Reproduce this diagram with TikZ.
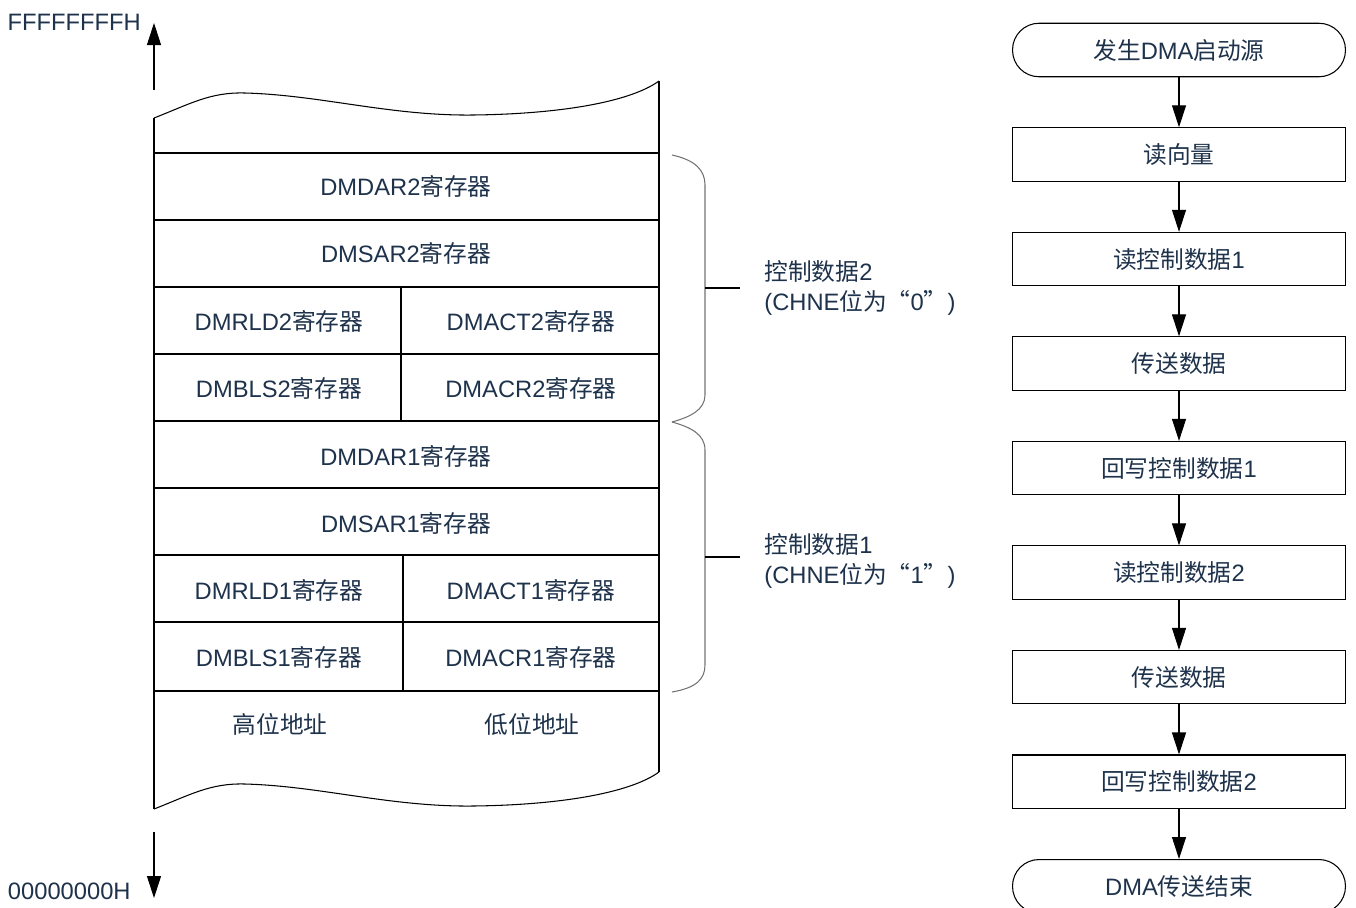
\documentclass[tikz,border=0pt]{standalone}
\usepackage{fontspec}
\setmainfont{Liberation Sans}
\newfontfamily\cjkfont{Noto Sans CJK SC}
\newcommand{\cn}[1]{{\cjkfont #1}}
\newcommand{\reg}[1]{#1\cn{寄存器}}
\usetikzlibrary{arrows.meta,positioning}
\definecolor{txtblue}{RGB}{30,50,75}

\begin{document}
\begin{tikzpicture}[x=0.02cm, y=-0.02cm,
  font=\fontsize{13.5}{17}\selectfont, text=txtblue, line width=0.6pt,
  arr/.style={-{Triangle[length=0.44cm,width=0.28cm]}},
  stepbox/.style={draw, minimum width=6.66cm, minimum height=1.07cm, inner sep=0pt},
  term/.style={stepbox, rounded corners=0.53cm},
  brc/.style={draw=black!55},
  node distance=1cm]
\useasboundingbox (0,0) rectangle (1356,907);

% address direction
\node[anchor=east] (hiaddr) at (147,22) {FFFFFFFFH};
\node[anchor=east] (loaddr) at (137,891) {00000000H};
\coordinate (upfrom) at (154,90);
\coordinate (uptip) at (154,23);
\coordinate (dnfrom) at (154,832);
\coordinate (dntip) at (154,898);
\draw[arr] (upfrom) -- (uptip);
\draw[arr] (dnfrom) -- (dntip);

% memory block with torn edges
\foreach \dy in {0,691}
  \draw (154,118+\dy) .. controls (190,104+\dy) and (210,92+\dy) .. (245,93+\dy)
        .. controls (320,95+\dy) and (390,116+\dy) .. (473,115+\dy)
        .. controls (560,114+\dy) and (630,102+\dy) .. (659,81+\dy);
\draw (154,118) -- (154,809);
\draw (659,81) -- (659,772);
\foreach \y in {153,220,287,354,421,488,555,622,691}
  \draw (154,\y) -- (659,\y);
\draw (401,287) -- (401,421);
\draw (403,555) -- (403,691);

\node (dar2) at (406,186) {\reg{DMDAR2}};
\node (sar2) at (406,253) {\reg{DMSAR2}};
\node (rld2) at (279,321) {\reg{DMRLD2}};
\node (act2) at (531,321) {\reg{DMACT2}};
\node (bls2) at (279,388) {\reg{DMBLS2}};
\node (acr2) at (531,388) {\reg{DMACR2}};
\node (dar1) at (406,456) {\reg{DMDAR1}};
\node (sar1) at (406,523) {\reg{DMSAR1}};
\node (rld1) at (279,590) {\reg{DMRLD1}};
\node (act1) at (531,590) {\reg{DMACT1}};
\node (bls1) at (279,657) {\reg{DMBLS1}};
\node (acr1) at (531,657) {\reg{DMACR1}};
\node (hibits) at (280,724) {\cn{高位地址}};
\node (lobits) at (532,724) {\cn{低位地址}};

% braces for the two control data sets
\draw[brc] (672,155) .. controls (695,160) and (705,170) .. (705,185) -- (705,395)
  .. controls (705,410) and (690,417) .. (672,422);
\draw[brc] (672,422) .. controls (690,427) and (705,434) .. (705,450) -- (705,665)
  .. controls (705,680) and (695,688) .. (672,692);
\draw (705,288) -- (740,288);
\draw (705,557) -- (740,557);
\node[anchor=west, align=left] (cd2) at (758,288) {\cn{控制数据}2\\(CHNE\cn{位为“}0\cn{”})};
\node[anchor=west, align=left] (cd1) at (758,561) {\cn{控制数据}1\\(CHNE\cn{位为“}1\cn{”})};

% flow
\node[term] (start) at (1179,50) {\cn{发生}DMA\cn{启动源}};
\node[stepbox, below=of start] (vec) {\cn{读向量}};
\node[stepbox, below=of vec] (rd1) {\cn{读控制数据}1};
\node[stepbox, below=of rd1] (xfer1) {\cn{传送数据}};
\node[stepbox, below=of xfer1] (wb1) {\cn{回写控制数据}1};
\node[stepbox, below=of wb1] (rd2) {\cn{读控制数据}2};
\node[stepbox, below=of rd2] (xfer2) {\cn{传送数据}};
\node[stepbox, below=of xfer2] (wb2) {\cn{回写控制数据}2};
\node[term, below=of wb2] (finish) {DMA\cn{传送结束}};
\foreach \a/\b in {start/vec, vec/rd1, rd1/xfer1, xfer1/wb1, wb1/rd2, rd2/xfer2, xfer2/wb2, wb2/finish}
  \draw[arr] (\a) -- (\b);
\end{tikzpicture}
\end{document}
